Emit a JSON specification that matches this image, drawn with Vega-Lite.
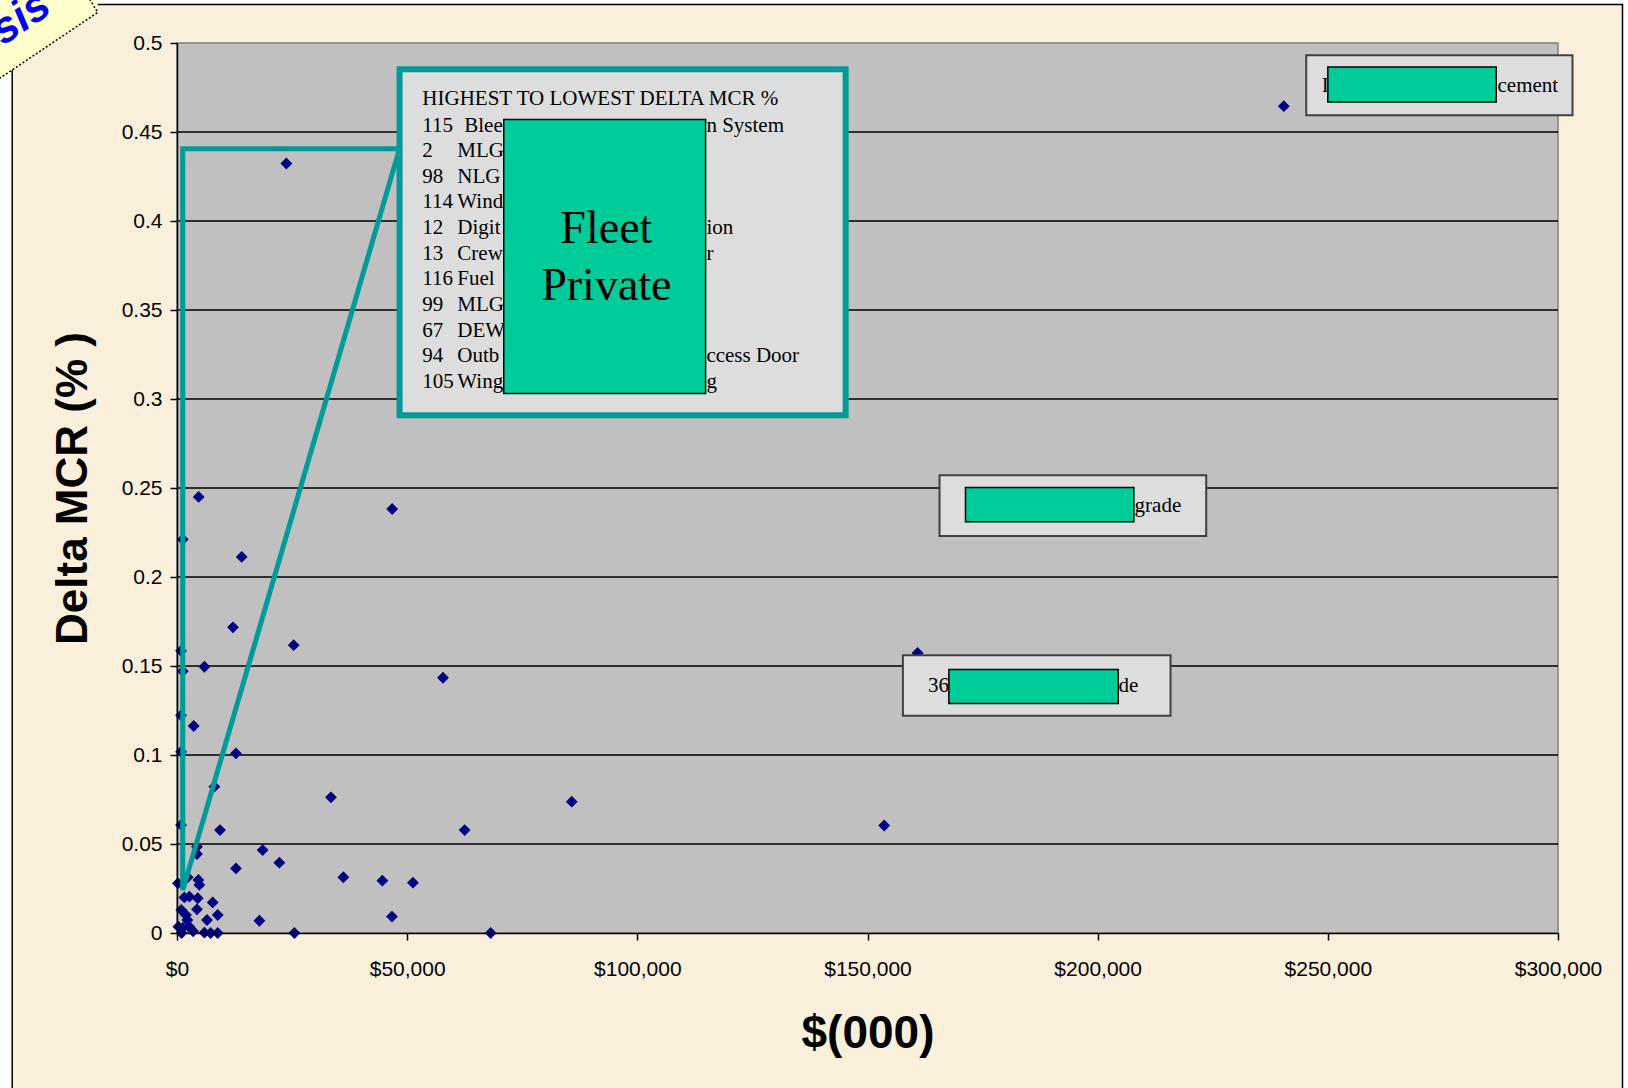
{
  "$schema": "https://vega.github.io/schema/vega-lite/v6.json",
  "width": 1381,
  "height": 890,
  "autosize": {"type": "none"},
  "padding": {"left": 177, "top": 43, "right": 70, "bottom": 155},
  "background": "white",
  "config": {"view": {"stroke": null}},
  "datasets": {
    "frame": [{"x": -35800, "x2": 314010, "y": 0.5216, "y2": -0.12}],
    "tab": [{"x": -40030, "y": 0.53, "y2": 0.4775}, {"x": -17224, "y": 0.53, "y2": 0.5172}],
    "tabEdge": [{"x": -40030, "y": 0.4775, "i": 0}, {"x": -17224, "y": 0.5172, "i": 1}, {"x": -18960, "y": 0.5245, "i": 2}],
    "tabText": [{"x": -26800, "y": 0.5175, "text": "Analysis"}],
    "plot": [{"x": 0, "x2": 300000, "y": 0, "y2": 0.5}],
    "grid": [
      {"x": 0, "x2": 300000, "y": 0.05}, {"x": 0, "x2": 300000, "y": 0.1}, {"x": 0, "x2": 300000, "y": 0.15},
      {"x": 0, "x2": 300000, "y": 0.2}, {"x": 0, "x2": 300000, "y": 0.25}, {"x": 0, "x2": 300000, "y": 0.3},
      {"x": 0, "x2": 300000, "y": 0.35}, {"x": 0, "x2": 300000, "y": 0.4}, {"x": 0, "x2": 300000, "y": 0.45}
    ],
    "points": [
      {"x": 240440, "y": 0.4645}, {"x": 23760, "y": 0.4323}, {"x": 4710, "y": 0.245}, {"x": 1240, "y": 0.2211},
      {"x": 14050, "y": 0.2113}, {"x": 46740, "y": 0.2382}, {"x": 12160, "y": 0.1717}, {"x": 25350, "y": 0.1617},
      {"x": 870, "y": 0.1585}, {"x": 5950, "y": 0.1496}, {"x": 1240, "y": 0.1471}, {"x": 57780, "y": 0.1434},
      {"x": 160880, "y": 0.1573}, {"x": 870, "y": 0.1223}, {"x": 3630, "y": 0.1163}, {"x": 870, "y": 0.1018},
      {"x": 12810, "y": 0.1009}, {"x": 8120, "y": 0.0822}, {"x": 33450, "y": 0.0762}, {"x": 85750, "y": 0.0738},
      {"x": 153630, "y": 0.0604}, {"x": 870, "y": 0.0607}, {"x": 9340, "y": 0.0578}, {"x": 62490, "y": 0.0578},
      {"x": 18610, "y": 0.0466}, {"x": 4340, "y": 0.0485}, {"x": 4340, "y": 0.0444}, {"x": 22240, "y": 0.0395},
      {"x": 12810, "y": 0.0363}, {"x": 36140, "y": 0.0313}, {"x": 2320, "y": 0.0313}, {"x": 4650, "y": 0.0298},
      {"x": 4860, "y": 0.027}, {"x": 200, "y": 0.0279}, {"x": 44610, "y": 0.0294}, {"x": 51260, "y": 0.0283},
      {"x": 1600, "y": 0.02}, {"x": 2690, "y": 0.0204}, {"x": 4500, "y": 0.0195}, {"x": 7750, "y": 0.0172},
      {"x": 930, "y": 0.0129}, {"x": 4340, "y": 0.0133}, {"x": 1950, "y": 0.0101}, {"x": 8840, "y": 0.0101},
      {"x": 6520, "y": 0.0073}, {"x": 2250, "y": 0.0073}, {"x": 17900, "y": 0.0069}, {"x": 46700, "y": 0.0092},
      {"x": 300, "y": 0.0035}, {"x": 2690, "y": 0.0035}, {"x": 1300, "y": 0.003}, {"x": 5950, "y": 0.0002},
      {"x": 7300, "y": 0.0}, {"x": 8840, "y": 0.0}, {"x": 25500, "y": 0.0}, {"x": 68140, "y": 0.0},
      {"x": 3500, "y": 0.001}, {"x": 1000, "y": 0.0}
    ],
    "callout": [
      {"x": 1250, "y": 0.4406, "i": 0}, {"x": 48350, "y": 0.4406, "i": 1},
      {"x": 1250, "y": 0.0241, "i": 2}, {"x": 1250, "y": 0.4406, "i": 3}
    ],
    "bigBox": [{"x": 48350, "x2": 145250, "y": 0.4852, "y2": 0.2909}],
    "smallBoxes": [
      {"x": 245310, "x2": 303150, "y": 0.4931, "y2": 0.4594},
      {"x": 165650, "x2": 223580, "y": 0.2572, "y2": 0.223},
      {"x": 157690, "x2": 215830, "y": 0.1561, "y2": 0.122}
    ],
    "textLeft": [
      {"x": 53300, "y": 0.465, "text": "HIGHEST TO LOWEST DELTA MCR %"},
      {"x": 53300, "y": 0.45, "text": "115"}, {"x": 62400, "y": 0.45, "text": "Blee"},
      {"x": 53300, "y": 0.4358, "text": "2"}, {"x": 60900, "y": 0.4358, "text": "MLG"},
      {"x": 53300, "y": 0.4212, "text": "98"}, {"x": 60900, "y": 0.4212, "text": "NLG"},
      {"x": 53300, "y": 0.4072, "text": "114"}, {"x": 60900, "y": 0.4072, "text": "Wind"},
      {"x": 53300, "y": 0.3926, "text": "12"}, {"x": 60900, "y": 0.3926, "text": "Digit"},
      {"x": 53300, "y": 0.378, "text": "13"}, {"x": 60900, "y": 0.378, "text": "Crew"},
      {"x": 53300, "y": 0.364, "text": "116"}, {"x": 60900, "y": 0.364, "text": "Fuel"},
      {"x": 53300, "y": 0.3493, "text": "99"}, {"x": 60900, "y": 0.3493, "text": "MLG"},
      {"x": 53300, "y": 0.3347, "text": "67"}, {"x": 60900, "y": 0.3347, "text": "DEW"},
      {"x": 53300, "y": 0.3207, "text": "94"}, {"x": 60900, "y": 0.3207, "text": "Outb"},
      {"x": 53300, "y": 0.3061, "text": "105"}, {"x": 60900, "y": 0.3061, "text": "Wing"},
      {"x": 115000, "y": 0.45, "text": "n System"},
      {"x": 115000, "y": 0.3926, "text": "ion"},
      {"x": 115000, "y": 0.378, "text": "r"},
      {"x": 115000, "y": 0.3207, "text": "ccess Door"},
      {"x": 115000, "y": 0.3061, "text": "g"},
      {"x": 286860, "y": 0.4725, "text": "cement"},
      {"x": 208020, "y": 0.2363, "text": "grade"},
      {"x": 204540, "y": 0.1352, "text": "de"}
    ],
    "textRight": [
      {"x": 250200, "y": 0.4725, "text": "I"},
      {"x": 167720, "y": 0.1352, "text": "36"}
    ],
    "greenBoxes": [
      {"x": 70980, "x2": 114830, "y": 0.457, "y2": 0.3031},
      {"x": 250000, "x2": 286580, "y": 0.4865, "y2": 0.4669},
      {"x": 171290, "x2": 207860, "y": 0.2503, "y2": 0.231},
      {"x": 167680, "x2": 204470, "y": 0.1481, "y2": 0.129}
    ],
    "fleet": [
      {"x": 93270, "y": 0.3876, "text": "Fleet"},
      {"x": 93270, "y": 0.3555, "text": "Private"}
    ]
  },
  "encoding": {
    "x": {
      "field": "x", "type": "quantitative",
      "scale": {"domain": [0, 300000], "nice": false, "zero": false},
      "axis": {
        "values": [0, 50000, 100000, 150000, 200000, 250000, 300000],
        "format": "$,.0f", "grid": false, "zindex": 1, "title": "$(000)",
        "domainColor": "black", "domainWidth": 1.5, "tickColor": "black", "tickWidth": 1.5, "tickSize": 7,
        "labelFont": "Liberation Sans", "labelFontSize": 21, "labelColor": "black", "labelPadding": 18,
        "labelFlush": false, "labelOverlap": false,
        "titleFont": "Liberation Sans", "titleFontSize": 46, "titleFontWeight": "bold", "titleColor": "black", "titlePadding": 32
      }
    },
    "y": {
      "field": "y", "type": "quantitative",
      "scale": {"domain": [0, 0.5], "nice": false, "zero": false},
      "axis": {
        "values": [0, 0.05, 0.1, 0.15, 0.2, 0.25, 0.3, 0.35, 0.4, 0.45, 0.5],
        "format": ".2~f", "grid": false, "zindex": 1, "title": "Delta MCR (% )",
        "domainColor": "black", "domainWidth": 1.5, "tickColor": "black", "tickWidth": 1.5, "tickSize": 7,
        "labelFont": "Liberation Sans", "labelFontSize": 21, "labelColor": "black", "labelPadding": 8,
        "labelFlush": false, "labelOverlap": false,
        "titleFont": "Liberation Sans", "titleFontSize": 44, "titleFontWeight": "bold", "titleColor": "black", "titlePadding": 26
      }
    }
  },
  "layer": [
    {"data": {"name": "frame"}, "mark": {"type": "rect", "fill": "#FAEFDA", "stroke": "black", "strokeWidth": 1.5},
     "encoding": {"x2": {"field": "x2"}, "y2": {"field": "y2"}}},
    {"data": {"name": "tab"}, "mark": {"type": "area", "fill": "#FFFFCC", "opacity": 1},
     "encoding": {"y2": {"field": "y2"}}},
    {"data": {"name": "tabEdge"}, "mark": {"type": "line", "color": "black", "strokeWidth": 1.5, "strokeDash": [2, 2]},
     "encoding": {"order": {"field": "i"}}},
    {"data": {"name": "tabText"}, "mark": {"type": "text", "angle": -34, "align": "right", "baseline": "alphabetic", "font": "Liberation Sans", "fontSize": 44, "fontWeight": "bold", "fontStyle": "italic", "color": "#0000FF"},
     "encoding": {"text": {"field": "text"}}},
    {"data": {"name": "plot"}, "mark": {"type": "rect", "fill": "#C0C0C0", "stroke": "#808080", "strokeWidth": 1.5},
     "encoding": {"x2": {"field": "x2"}, "y2": {"field": "y2"}}},
    {"data": {"name": "grid"}, "mark": {"type": "rule", "color": "black", "strokeWidth": 1.5},
     "encoding": {"x2": {"field": "x2"}}},
    {"data": {"name": "points"}, "mark": {"type": "point", "shape": "diamond", "filled": true, "color": "#000080", "size": 140, "opacity": 1},
     "encoding": {}},
    {"data": {"name": "callout"}, "mark": {"type": "line", "color": "#009B98", "strokeWidth": 5, "strokeJoin": "miter", "strokeCap": "square"},
     "encoding": {"order": {"field": "i"}}},
    {"data": {"name": "bigBox"}, "mark": {"type": "rect", "fill": "#DDDDDD", "stroke": "#009B98", "strokeWidth": 6},
     "encoding": {"x2": {"field": "x2"}, "y2": {"field": "y2"}}},
    {"data": {"name": "smallBoxes"}, "mark": {"type": "rect", "fill": "#DDDDDD", "stroke": "#404040", "strokeWidth": 2},
     "encoding": {"x2": {"field": "x2"}, "y2": {"field": "y2"}}},
    {"data": {"name": "textLeft"}, "mark": {"type": "text", "align": "left", "baseline": "alphabetic", "font": "Liberation Serif", "fontSize": 21, "color": "black"},
     "encoding": {"text": {"field": "text"}}},
    {"data": {"name": "textRight"}, "mark": {"type": "text", "align": "right", "baseline": "alphabetic", "font": "Liberation Serif", "fontSize": 21, "color": "black"},
     "encoding": {"text": {"field": "text"}}},
    {"data": {"name": "greenBoxes"}, "mark": {"type": "rect", "fill": "#00CC99", "stroke": "black", "strokeWidth": 1.5},
     "encoding": {"x2": {"field": "x2"}, "y2": {"field": "y2"}}},
    {"data": {"name": "fleet"}, "mark": {"type": "text", "align": "center", "baseline": "alphabetic", "font": "Liberation Serif", "fontSize": 46, "color": "black"},
     "encoding": {"text": {"field": "text"}}}
  ]
}
